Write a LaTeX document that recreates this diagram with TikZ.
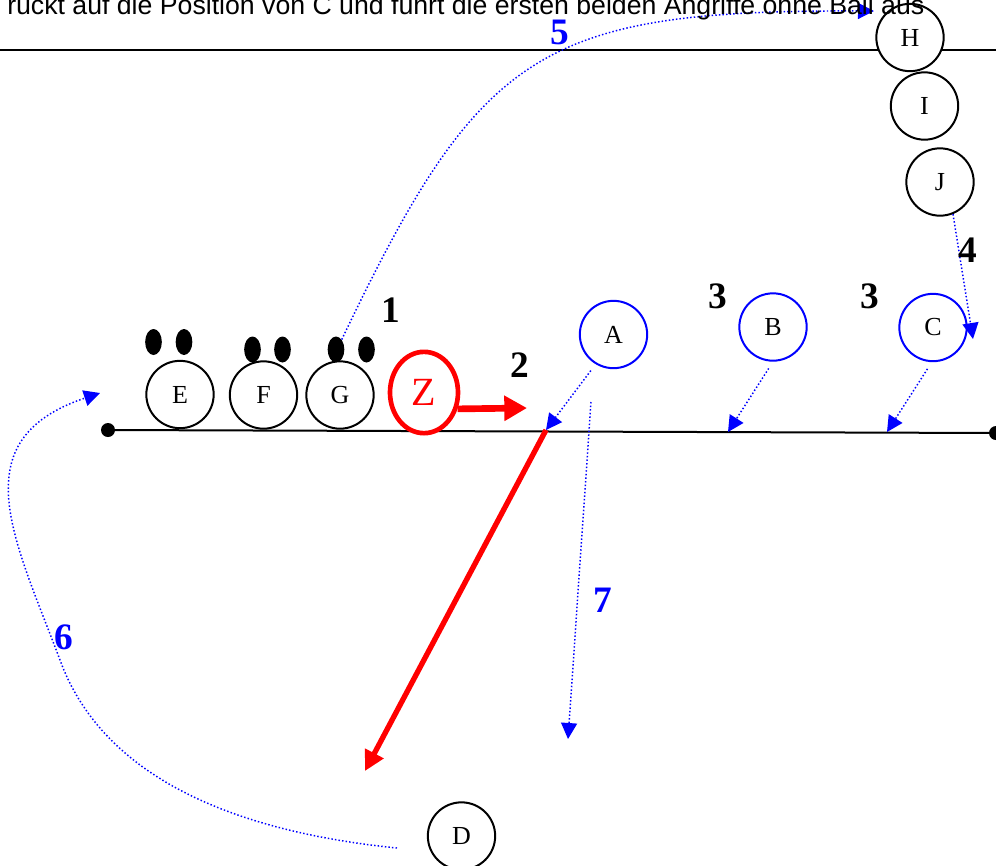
\documentclass[tikz,border=0pt]{standalone}
\usepackage{fontspec}
\setmainfont{Liberation Serif}
\newfontfamily\notefont{Liberation Sans}
\usetikzlibrary{arrows.meta,shapes.geometric}

\definecolor{runblue}{RGB}{0,0,255}
\definecolor{passred}{RGB}{255,0,0}

\tikzset{
  player/.style={circle, draw=black, line width=1.5pt, fill=white,
    minimum size=50.5pt, inner sep=0pt, font=\fontsize{19.5}{19.5}\selectfont},
  attacker/.style={player, draw=runblue},
  foot/.style={ellipse, fill=black, minimum width=12.5pt, minimum height=19.5pt, inner sep=0pt},
  num/.style={font=\fontsize{28}{28}\selectfont\bfseries, inner sep=0pt},
  bluenum/.style={num, text=runblue},
  run/.style={runblue, line width=1.1pt, dash pattern=on 1.1pt off 1.6pt,
    -{Triangle[length=12pt,width=12pt]}},
  shortpass/.style={passred, line width=5pt, -{Triangle[length=17pt,width=18pt]}},
  longpass/.style={passred, line width=4pt, -{Triangle[length=15pt,width=15pt]}},
  endpoint/.style={circle, fill=black, minimum size=10.5pt, inner sep=0pt},
}

\begin{document}
\begin{tikzpicture}[x=0.75pt,y=-0.75pt]
\useasboundingbox (0,0) rectangle (996,865);
\clip (0,0) rectangle (996,865);

% upper boundary line
\coordinate (topL) at (-5,50);
\coordinate (topR) at (1001,50);
\draw[line width=1.5pt] (topL) -- (topR);

% line of the wall
\node[endpoint] (lineL) at (108,430) {};
\node[endpoint] (lineR) at (996,433) {};
\draw[line width=1.5pt] (lineL.center) -- (lineR.center);

% feet above the wall players
\node[foot] (fE1) at (153.5,342) {};
\node[foot] (fE2) at (184,342) {};
\node[foot] (fF1) at (252.5,349.5) {};
\node[foot] (fF2) at (282.5,349.5) {};
\node[foot] (fG1) at (336,349.5) {};
\node[foot] (fG2) at (366.5,349.5) {};

% wall players
\node[player] (E) at (180,394.5) {E};
\node[player] (F) at (263.5,395) {F};
\node[player] (G) at (340,395) {G};

% ball carrier
\node[ellipse, draw=passred, line width=3.5pt, fill=white, minimum width=51pt,
  minimum height=61pt, inner sep=0pt, text=passred,
  font=\fontsize{30}{30}\selectfont] (Z) at (424,392.5) {Z};

% attackers
\node[attacker] (A) at (613.5,334.5) {A};
\node[attacker] (B) at (773,327) {B};
\node[attacker] (C) at (933,327.5) {C};

% waiting players
\node[player] (H) at (910,37.5) {H};
\node[player] (I) at (924.5,106) {I};
\node[player] (J) at (940,182) {J};
\node[player] (D) at (461.5,836) {D};

% arrow end points
\coordinate (hit) at (546,430);
\coordinate (tipZ) at (527,408);
\coordinate (tipB) at (728,432);
\coordinate (tipC) at (887,432);
\coordinate (tipJ) at (973,339);
\coordinate (from7) at (591,402);
\coordinate (tip7) at (568,739);
\coordinate (tip5) at (874,11);
\coordinate (from6) at (397,848);
\coordinate (mid6) at (60,660);
\coordinate (tip6) at (100,393);
\coordinate (tipLong) at (365,771);

% passes
\draw[shortpass] (Z.-26) -- (tipZ);
\draw[longpass] (hit) -- (tipLong);

% runs
\draw[run, shorten <=6pt] (A.-121) -- (hit);
\draw[run, shorten <=6pt] (B.-90) -- (tipB);
\draw[run, shorten <=6pt] (C.-92) -- (tipC);
\draw[run] (J.-68) -- (tipJ);
\draw[run] (from7) -- (tip7);
\draw[run] (fG1.60) .. controls (480,50) and (540,10) .. (tip5);
\draw[run] (from6) .. controls (220,830) and (100,770) .. (mid6)
  .. controls (15,540) and (-40,440) .. (tip6);

% step numbers
\node[num] (n1) at (391,310) {1};
\node[num] (n2) at (520,365) {2};
\node[num] (n3a) at (718,296) {3};
\node[num] (n3b) at (870,296) {3};
\node[num] (n4) at (968,250) {4};
\node[bluenum] (n5) at (560,32) {5};
\node[bluenum] (n6) at (64,637) {6};
\node[bluenum] (n7) at (603,600) {7};

% note text along the upper edge
\node[anchor=base west, inner sep=0pt, font=\notefont\fontsize{20}{22}\selectfont]
  (note) at (7,14) {rückt auf die Position von C und führt die ersten beiden Angriffe ohne Ball aus};
\end{tikzpicture}
\end{document}
